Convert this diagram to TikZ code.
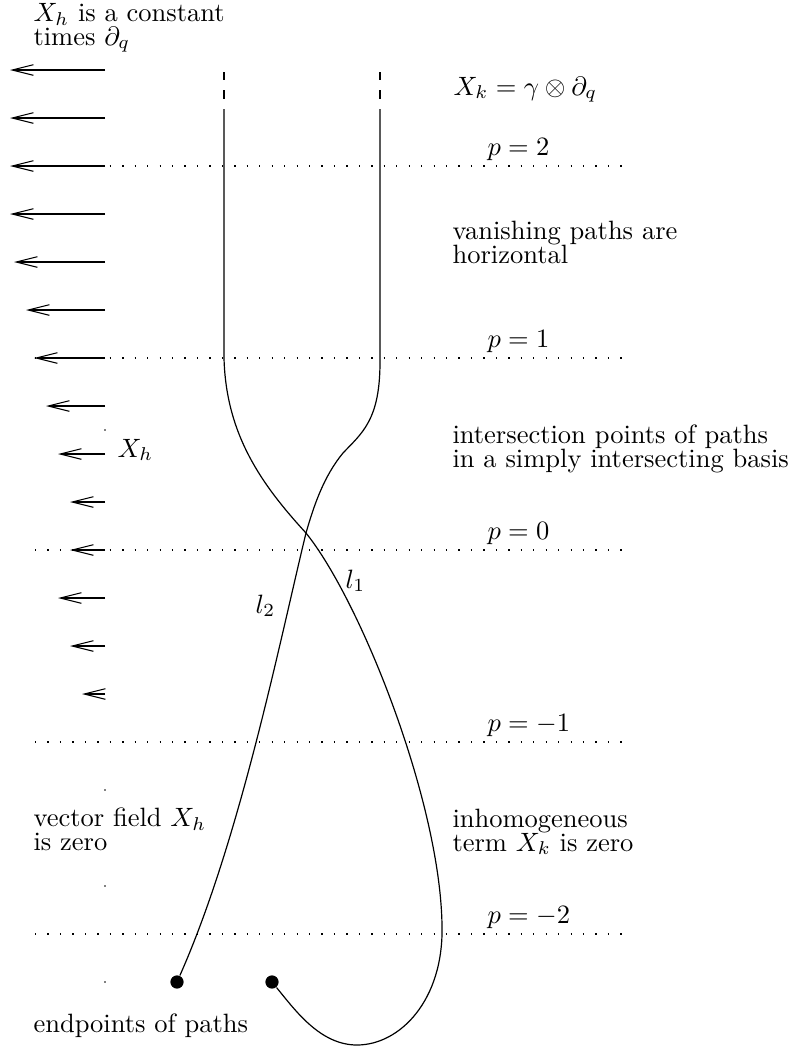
\documentclass[tikz,border=0pt]{standalone}
\usepackage{tikz}
\usetikzlibrary{arrows.meta}

\begin{document}
\begin{tikzpicture}[x=0.3774pt, y=-0.3774pt, font=\fontsize{10}{9}\selectfont]
  \tikzstyle{field} = [line width=0.4pt, -{Straight Barb[length=8pt,width=4pt]}]
  \tikzstyle{level} = [line width=0.5pt, dash pattern=on 0.5pt off 4.2pt]
  \tikzstyle{vpath} = [line width=0.45pt]
  \tikzstyle{cut} = [vpath, dash pattern=on 3.2pt off 3.6pt]
  \tikzstyle{endpt} = [circle, fill, inner sep=0pt, minimum size=5pt]
  \tikzstyle{note} = [anchor=base west, align=left, inner sep=0pt]
  \useasboundingbox (0,0) rectangle (794,1047);
  % vector field X_h
  \foreach \y/\x in {70/10,118/10,166/10,214/10,262/14,310/26,358/34,406/46,454/58,502/70,550/70,598/58,646/70,694/82}
    \draw[field] (105,\y) -- (\x,\y);
  \foreach \y in {430,790,886,982}
    \fill (105,\y) circle (0.35pt);
  % levels of p
  \foreach \p/\y [count=\i] in {2/166,1/358,0/550,-1/742,-2/934} {
    \draw[level] (35,\y) -- (632,\y);
    \node[note] (lev\i) at (487,\y-11) {$p=\p$};
  }
  % the two paths
  \coordinate (top1) at (224,72);
  \coordinate (top2) at (380,72);
  \coordinate (start1) at (224,109);
  \coordinate (start2) at (380,109);
  \node[endpt] (end1) at (272,982) {};
  \node[endpt] (end2) at (177,982) {};
  \draw[cut] (top1) -- (224,101);
  \draw[cut] (top2) -- (380,101);
  \draw[vpath] (start1) -- (224,358) .. controls (226,435) and (262,485) .. (306,533)
    .. controls (360,600) and (440,800) .. (442,925)
    .. controls (444,1000) and (400,1045) .. (357,1045)
    .. controls (320,1045) and (295,1010) .. (end1);
  \draw[vpath] (start2) -- (380,362) .. controls (380,420) and (362,433) .. (343,453)
    .. controls (324,476) and (314,505) .. (306,533)
    .. controls (280,640) and (240,840) .. (end2);
  % texts (multi-line ones sit on their last baseline)
  \node[note] (const) at (33,45) {$X_h$ is a constant\\times $\partial_q$};
  \node[note] (xk) at (453,95) {$X_k=\gamma\otimes\partial_q$};
  \node[note] (vanish) at (452,263) {vanishing paths are\\horizontal};
  \node[note] (inter) at (452,467) {intersection points of paths\\in a simply intersecting basis};
  \node[note] (inhom) at (452,851) {inhomogeneous\\term $X_k$ is zero};
  \node[note] (zero) at (33,850) {vector field $X_h$\\is zero};
  \node[note] (ends) at (33,1032) {endpoints of paths};
  \node[note] (xh) at (117,457) {$X_h$};
  \node[note] (l1) at (345,588) {$l_1$};
  \node[note] (l2) at (255,613) {$l_2$};
\end{tikzpicture}
\end{document}
